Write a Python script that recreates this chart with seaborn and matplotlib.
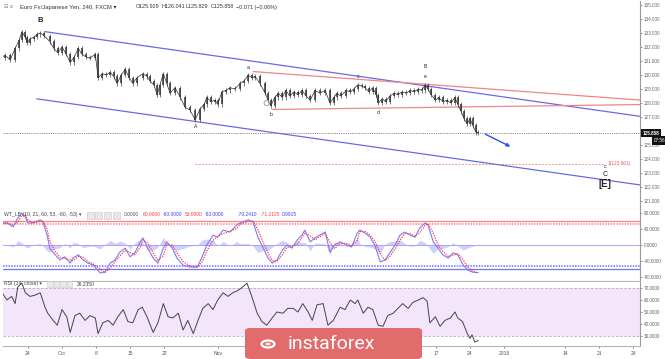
import numpy as np
import pandas as pd
import matplotlib
matplotlib.use("Agg")
import matplotlib.pyplot as plt
import seaborn as sns
from matplotlib.patches import FancyBboxPatch, Circle, FancyArrowPatch, Rectangle
import matplotlib.transforms as mtransforms

sns.set_style("white")
plt.rcParams['font.family'] = ['Liberation Sans', 'DejaVu Sans']

# ---------------- data (time in trading days, 0 = 24 Sep 2018) ----------------
price_t = [-4.1, -3.4, -2.6, -1.9, -1.3, -0.9, -0.4, -0.1, 0.3, 0.9, 1.3, 1.8, 2.4, 3.2, 3.8, 4.4, 5.0, 5.6,
           6.2, 6.8, 7.4, 7.9, 8.5, 9.1, 9.9, 10.3, 10.9, 11.5, 12.1, 12.6, 13.1, 13.7, 14.3, 14.9, 15.4, 16.0,
           16.9, 17.5, 17.9, 18.5, 19.0, 19.4, 19.9, 20.4, 20.9, 21.6, 22.4, 23.1, 23.8, 24.6, 25.3, 25.9,
           26.3, 26.9, 27.5, 27.9, 28.5, 29.1, 29.7, 30.4, 31.2, 31.8, 32.4, 32.9, 33.4, 34.1, 34.9, 35.3,
           35.7, 36.3, 36.8, 37.4, 37.9, 38.5, 39.1, 39.7, 40.3, 40.9, 41.5, 42.2, 42.9, 43.7, 44.4, 45.0,
           45.4, 46.0, 46.8, 47.4, 47.9, 48.5, 49.1, 49.6, 50.1, 50.7, 51.2, 51.5, 52.1, 52.6, 53.2, 53.8,
           54.4, 55.0, 55.6, 56.2, 56.8, 57.4, 57.9, 58.4, 58.8, 59.3, 59.9, 60.4, 61.0, 61.6, 62.2, 62.8,
           63.2, 63.7, 64.1, 64.6, 65.0, 65.4, 65.9, 66.2]
price_close = [131.2, 131.4, 131.1, 131.9, 132.5, 133.1, 132.7, 132.3, 132.6, 132.7, 132.9, 133.0, 132.8, 132.4,
               131.9, 131.6, 132.0, 131.5, 130.9, 131.3, 131.9, 131.5, 131.3, 131.2, 131.5, 129.8, 130.1, 130.0,
               130.2, 129.9, 129.4, 130.0, 130.4, 129.8, 129.4, 129.8, 130.1, 129.9, 129.6, 129.3, 128.6, 129.3,
               130.1, 129.4, 128.7, 129.1, 128.4, 127.7, 127.5, 126.8, 127.6, 127.9, 128.4, 128.1, 128.2, 127.9,
               128.8, 128.9, 129.1, 129.0, 129.4, 129.6, 130.0, 129.8, 129.9, 129.4, 128.7, 128.2, 127.8, 128.4,
               128.7, 128.4, 128.9, 128.5, 128.8, 128.6, 128.9, 128.5, 128.2, 128.9, 128.7, 128.9, 128.0, 128.4,
               128.7, 128.5, 128.9, 128.8, 129.0, 129.3, 129.2, 129.1, 128.8, 129.1, 128.6, 128.0, 128.3, 128.1,
               128.5, 128.7, 128.6, 128.8, 128.7, 128.9, 128.8, 129.0, 128.9, 129.3, 129.0, 128.6, 128.2, 128.4,
               128.1, 128.2, 128.0, 128.4, 127.9, 127.4, 126.9, 126.5, 126.9, 126.4, 125.9, 125.858]

wt_t = [-3.8, -3.1, -2.2, -1.5, -0.9, -0.4, 0.0, 0.7, 1.8, 2.2, 2.8, 3.2, 4.0, 4.7, 5.4, 6.2, 6.6, 7.4, 8.1,
        8.8, 9.6, 10.6, 11.3, 12.1, 12.8, 13.5, 14.3, 15.0, 15.7, 16.5, 16.9, 17.6, 18.4, 19.1, 19.9, 20.4,
        21.2, 21.9, 22.8, 23.8, 24.9, 25.6, 26.3, 27.2, 27.9, 28.7, 29.7, 30.7, 31.2, 32.4, 33.1, 33.8, 34.6,
        35.3, 35.9, 36.6, 37.4, 38.1, 38.8, 39.6, 40.3, 40.7, 41.5, 42.2, 42.9, 43.7, 44.4, 45.1, 45.9, 46.9,
        47.6, 48.4, 48.8, 49.6, 50.3, 51.0, 51.8, 52.5, 53.2, 54.0, 54.7, 55.4, 56.2, 56.9, 57.6, 58.4, 58.8,
        59.6, 60.3, 61.0, 61.8, 62.5, 63.2, 64.0, 64.7, 65.4, 66.2]
wt1 = [56, 56, 46, 69, 81, 71, 56, 56, 64, 58, 25, -8, -25, -38, -30, -46, -33, -25, -38, -46, -51, -71, -69,
       -46, -38, -18, -8, -30, -20, 8, 18, -8, -33, -46, -8, 8, -8, -33, -51, -56, -56, -30, 0, 25, 20, 38, 33,
       51, 56, 64, 58, 20, -8, -33, -46, -38, -13, 0, -8, 13, 25, 38, 8, 18, 25, 33, -18, 0, 8, 0, -5, 30, 38,
       30, 20, 0, -43, -38, -20, 0, 25, 33, 25, 20, 43, 56, 51, 8, -8, -25, -33, -20, -25, -51, -64, -69, -70.241]
wt2 = [54, 56, 51, 58, 75, 76, 63, 56, 60, 61, 40, 10, -16, -31, -34, -38, -40, -29, -31, -42, -48, -61, -70,
       -58, -42, -28, -13, -19, -25, -6, 13, 5, -20, -40, -27, 0, 0, -20, -42, -53, -56, -43, -15, 12, 22, 29, 35,
       42, 53, 60, 61, 39, 6, -20, -40, -42, -25, -6, -4, 2, 19, 31, 23, 13, 21, 29, 7, -9, 4, 4, -2, 12, 34,
       34, 25, 10, -21, -40, -29, -10, 12, 29, 29, 22, 31, 50, 54, 30, 0, -16, -29, -26, -22, -38, -57, -66, -71.2125]
wt_levels = {"ob1": 60, "ob2": 53, "os1": -60, "os2": -53}

rsi_t = [-3.8, -3.1, -2.4, -1.9, -1.5, -0.9, -0.4, 0.3, 1.0, 1.8, 2.5, 2.9, 3.7, 4.3, 5.0, 5.7, 6.2, 6.9, 7.6,
         8.4, 9.1, 9.9, 10.3, 11.0, 11.8, 12.5, 13.2, 14.0, 14.7, 15.4, 16.2, 16.8, 17.5, 18.4, 19.1, 19.9, 20.6,
         21.3, 22.1, 22.8, 23.5, 24.3, 25.0, 25.7, 26.5, 27.2, 27.9, 28.7, 29.4, 30.1, 30.9, 31.6, 32.2, 32.9,
         33.7, 34.4, 35.1, 35.9, 36.6, 37.5, 38.2, 39.0, 39.7, 40.4, 41.2, 41.8, 42.5, 43.4, 44.1, 44.9, 45.9,
         46.6, 47.4, 48.1, 48.5, 49.3, 50.0, 50.7, 51.5, 52.2, 52.9, 53.7, 54.4, 55.1, 55.9, 56.6, 57.4, 58.1,
         58.7, 59.1, 59.9, 60.6, 61.3, 62.1, 62.8, 63.2, 63.9, 64.6, 65.0, 65.3, 65.7, 66.2]
rsi = [66, 60, 63, 57, 71, 74, 66, 63, 64, 66, 54, 49, 43, 39, 52, 46, 33, 47, 49, 43, 47, 45, 32, 41, 43, 39,
       46, 52, 42, 41, 52, 54, 46, 33, 41, 57, 46, 45, 49, 35, 43, 32, 43, 53, 57, 52, 60, 66, 63, 66, 68, 71,
       74, 63, 49, 42, 39, 45, 50, 49, 53, 53, 50, 57, 50, 43, 56, 57, 39, 43, 54, 52, 60, 57, 60, 49, 54, 52,
       39, 38, 47, 49, 53, 57, 53, 58, 60, 62, 59, 41, 46, 38, 43, 45, 50, 45, 42, 32, 28, 31, 25, 26.235]

# drawn objects (start/end in time, price)
upper_channel = [(2.5, 133.1), (90.0, 127.05)]
lower_channel = [(1.3, 128.3), (90.0, 122.15)]
red_upper = [(33.1, 130.25), (90.0, 128.21)]
red_lower = [(35.9, 127.54), (90.0, 127.89)]
target_level = 123.661
last_price = 125.858
wave_labels = [("B", 1.8, 133.9, 5.5, "bold"), ("A", 24.6, 126.3, 3.6, "normal"),
               ("a", 32.4, 130.55, 3.6, "normal"), ("b", 35.8, 127.15, 3.6, "normal"),
               ("c", 48.6, 129.9, 3.6, "normal"), ("d", 51.5, 127.3, 3.6, "normal"),
               ("B", 58.4, 130.6, 3.6, "normal"), ("e", 58.4, 129.88, 3.6, "normal"),
               ("c", 84.9, 123.5, 4.0, "normal"), ("C", 84.9, 122.86, 5.0, "normal"),
               ("[E]", 84.9, 122.2, 7.0, "bold")]
# labels hidden under the watermark (12, 19, 26, Dec, 10) are not shown in the reference
tick_pos = [0, 5, 10, 15, 20, 28, 60, 65, 70, 79, 84, 89]
tick_labels = ["24", "Oct", "8", "15", "22", "Nov", "17", "24", "2019", "14", "21", "28"]
price_ticks = [121, 122, 123, 124, 125, 127, 128, 129, 130, 131, 132, 133, 134, 135]
wt_ticks = [80, 40, 0, -40, -80]
rsi_ticks = [70, 60, 50, 40, 30]

# ---------------- layout ----------------
W, H = 665, 359
fig = plt.figure(figsize=(W / 100, H / 100), dpi=100)
fig.patch.set_facecolor("white")


def axrect(x0, y0, x1, y1):
    return [x0 / W, 1 - y1 / H, (x1 - x0) / W, (y1 - y0) / H]


ax_p = fig.add_axes(axrect(3, 1, 640, 209))
ax_w = fig.add_axes(axrect(3, 209, 640, 281), sharex=ax_p)
ax_r = fig.add_axes(axrect(3, 282, 640, 346), sharex=ax_p)

for ax in (ax_p, ax_w, ax_r):
    ax.set_facecolor("white")
    for s in ("top", "left"):
        ax.spines[s].set_visible(False)
    ax.spines["right"].set_color("#9a9a9a")
    ax.spines["bottom"].set_color("#b5b5b5")
    for s in ("right", "bottom"):
        ax.spines[s].set_linewidth(0.8)
    ax.yaxis.tick_right()
    ax.tick_params(axis="y", labelsize=3.3, colors="#666666", length=1.5, width=0.5, pad=1.5)
    ax.grid(False)

ax_p.set_xlim(-3.68, 90)
ax_p.set_ylim(120.43, 135.29)
ax_w.set_ylim(-91.4, 91.4)
ax_r.set_ylim(21.67, 75)

# ---------------- price panel ----------------
pdf = pd.DataFrame({"t": price_t, "close": price_close})
opens = [price_close[0]] + price_close[:-1]
lo = np.minimum(opens, price_close)
hi = np.maximum(opens, price_close)
ax_p.vlines(price_t, lo - 0.15, hi + 0.15, color="#444444", lw=0.5, zorder=3)
ax_p.vlines(price_t, lo, hi, color="#333333", lw=1.1, zorder=3)
sns.lineplot(data=pdf, x="t", y="close", ax=ax_p, color="#333333", lw=0.5, zorder=3)

for (seg, col) in ((upper_channel, "#6a6ae8"), (lower_channel, "#6a6ae8"),
                   (red_upper, "#f08585"), (red_lower, "#f08585")):
    d = pd.DataFrame(seg, columns=["t", "p"])
    sns.lineplot(data=d, x="t", y="p", ax=ax_p, color=col, lw=0.9, zorder=2)

ax_p.axhline(last_price, color="#666666", lw=0.6, ls=(0, (1, 1.2)), zorder=1)
ax_p.hlines(target_level, 24.6, 84.6, color="#f07070", lw=0.6, ls=(0, (2, 2)), zorder=1)
ax_p.text(85.3, target_level, "1(123.661).", color="#f05050", fontsize=3.4, va="center", ha="left")

arrow = FancyArrowPatch((66.9, 125.86), (71.3, 124.8), arrowstyle="-|>", mutation_scale=5,
                        color="#3050e8", lw=1.0, zorder=4)
ax_p.add_patch(arrow)
ax_p.scatter([35.1], [128.0], s=14, facecolors="none", edgecolors="#a0a0a0", lw=0.7, zorder=4)

for (txt, t, p, fs, fw) in wave_labels:
    ax_p.text(t, p, txt, fontsize=fs, fontweight=fw, color="#222222", ha="center", va="center", zorder=5)

ax_p.set_yticks(price_ticks)
ax_p.set_yticklabels([f"{v:.3f}" for v in price_ticks])
ax_p.set_xlabel("")
ax_p.set_ylabel("")
ax_p.tick_params(axis="x", bottom=False, labelbottom=False)

trans_p = mtransforms.blended_transform_factory(ax_p.transAxes, ax_p.transData)
ax_p.text(1.004, last_price, "125.858", transform=trans_p, fontsize=3.3, color="white", va="center",
          ha="left", fontweight="bold", bbox=dict(boxstyle="square,pad=0.35", fc="#111111", ec="none"))
ax_p.text(1.022, 125.33, "07:56", transform=trans_p, fontsize=3.3, color="white", va="center",
          ha="left", bbox=dict(boxstyle="square,pad=0.35", fc="#111111", ec="none"))

# legend header
fig.text(4 / W, 1 - 7 / H, "⊟ ≡", fontsize=3.8, color="#888888", va="center")
fig.text(20 / W, 1 - 7 / H, "Euro Fx/Japanese Yen, 240, FXCM ▾", fontsize=4.2, color="#333333", va="center")
for x0, s in ((136, "O125.929"), (161, "H126.041"), (186, "L125.829"), (211, "C125.858"), (236, "−0.071 (−0.06%)")):
    fig.text(x0 / W, 1 - 7 / H, s, fontsize=3.9, color="#333333", va="center")

# ---------------- WT panel ----------------
wdf = pd.DataFrame({"t": wt_t, "wt1": wt1, "wt2": wt2})
diff = np.array(wt1) - np.array(wt2)
ax_w.fill_between(wt_t, 0, diff, color="#7a7aff", alpha=0.35, lw=0, zorder=1)
ax_w.axhline(0, color="#9a9af0", lw=0.6, zorder=1)
ax_w.axhline(wt_levels["ob1"], color="#ff8080", lw=0.9, zorder=1)
ax_w.axhline(wt_levels["ob2"], color="#ff8080", lw=1.1, ls=(0, (1, 0.8)), zorder=1)
ax_w.axhline(wt_levels["os1"], color="#7070ff", lw=0.9, zorder=1)
ax_w.axhline(wt_levels["os2"], color="#7070ff", lw=1.1, ls=(0, (1, 0.8)), zorder=1)
sns.lineplot(data=wdf, x="t", y="wt1", ax=ax_w, color="#7b7bff", lw=0.8, zorder=3)
sns.lineplot(data=wdf, x="t", y="wt2", ax=ax_w, color="#ff3a3a", lw=0.9, ls=(0, (1, 1)), zorder=4)
ax_w.set_yticks(wt_ticks)
ax_w.set_yticklabels([f"{v:.4f}" for v in wt_ticks])
ax_w.set_xlabel("")
ax_w.set_ylabel("")
ax_w.tick_params(axis="x", bottom=False, labelbottom=False)

yw = 1 - 215 / H
fig.text(4 / W, yw, "WT_LB (10, 21, 60, 53, -60, -53) ▾", fontsize=3.7, color="#444444", va="center")
for i in range(4):
    fig.patches.append(Rectangle(((87 + i * 8.5) / W, 1 - 218.5 / H), 7 / W, 7 / H,
                                 transform=fig.transFigure, fc="#e8e8e8", ec="#c8c8c8", lw=0.4))
for x0, s, c in ((124, "0.0000", "#555555"), (143, "60.0000", "#ff4040"), (163, "-60.0000", "#4040ff"),
                 (185, "53.0000", "#ff4040"), (205, "-53.0000", "#4040ff"), (238, "-70.2410", "#4040ff"),
                 (261, "-71.2125", "#ff4040"), (282, "0.9915", "#4040ff")):
    fig.text(x0 / W, yw, s, fontsize=3.5, color=c, va="center")

# ---------------- RSI panel ----------------
rdf = pd.DataFrame({"t": rsi_t, "rsi": rsi})
ax_r.axhspan(30, 70, color="#f3e6fb", lw=0, zorder=0)
ax_r.axhline(70, color="#b0b0b0", lw=0.6, ls=(0, (3, 2)), zorder=1)
ax_r.axhline(30, color="#b0b0b0", lw=0.6, ls=(0, (3, 2)), zorder=1)
sns.lineplot(data=rdf, x="t", y="rsi", ax=ax_r, color="#444444", lw=0.7, zorder=3)
ax_r.set_yticks(rsi_ticks)
ax_r.set_yticklabels([f"{v:.4f}" for v in rsi_ticks])
ax_r.set_xlabel("")
ax_r.set_ylabel("")
ax_r.set_xticks(tick_pos)
ax_r.set_xticklabels(tick_labels)
ax_r.tick_params(axis="x", labelsize=3.6, colors="#555555", length=1.5, width=0.5, pad=2, bottom=True)

yr = 1 - 284 / H
fig.text(4 / W, yr, "RSI (14, close) ▾", fontsize=3.7, color="#444444", va="center")
for i in range(4):
    fig.patches.append(Rectangle(((47 + i * 6.5) / W, 1 - 287 / H), 5.5 / W, 6 / H,
                                 transform=fig.transFigure, fc="#e8e8e8", ec="#c8c8c8", lw=0.4))
fig.text(77 / W, yr, "26.2350", fontsize=3.5, color="#444444", va="center")

# ---------------- watermark logo ----------------
logo = FancyBboxPatch((245 / W, 0), 177 / W, 31 / H, boxstyle="round,pad=0,rounding_size=0.008",
                      transform=fig.transFigure, fc="#e26b6b", ec="none", zorder=10)
fig.patches.append(logo)
fig.patches.append(Circle((268 / W, 1 - 344 / H), 6.5 / W, transform=fig.transFigure,
                          fc="none", ec="white", lw=1.6, zorder=11))
fig.patches.append(Circle((268 / W, 1 - 344 / H), 2.5 / W, transform=fig.transFigure,
                          fc="white", ec="none", zorder=11))
fig.text(288 / W, 1 - 344 / H, "instaforex", fontsize=14, color="white", va="center", ha="left",
         family=["Roboto", "DejaVu Sans"], zorder=12)

fig.savefig("out.png", dpi=100, facecolor="white")
